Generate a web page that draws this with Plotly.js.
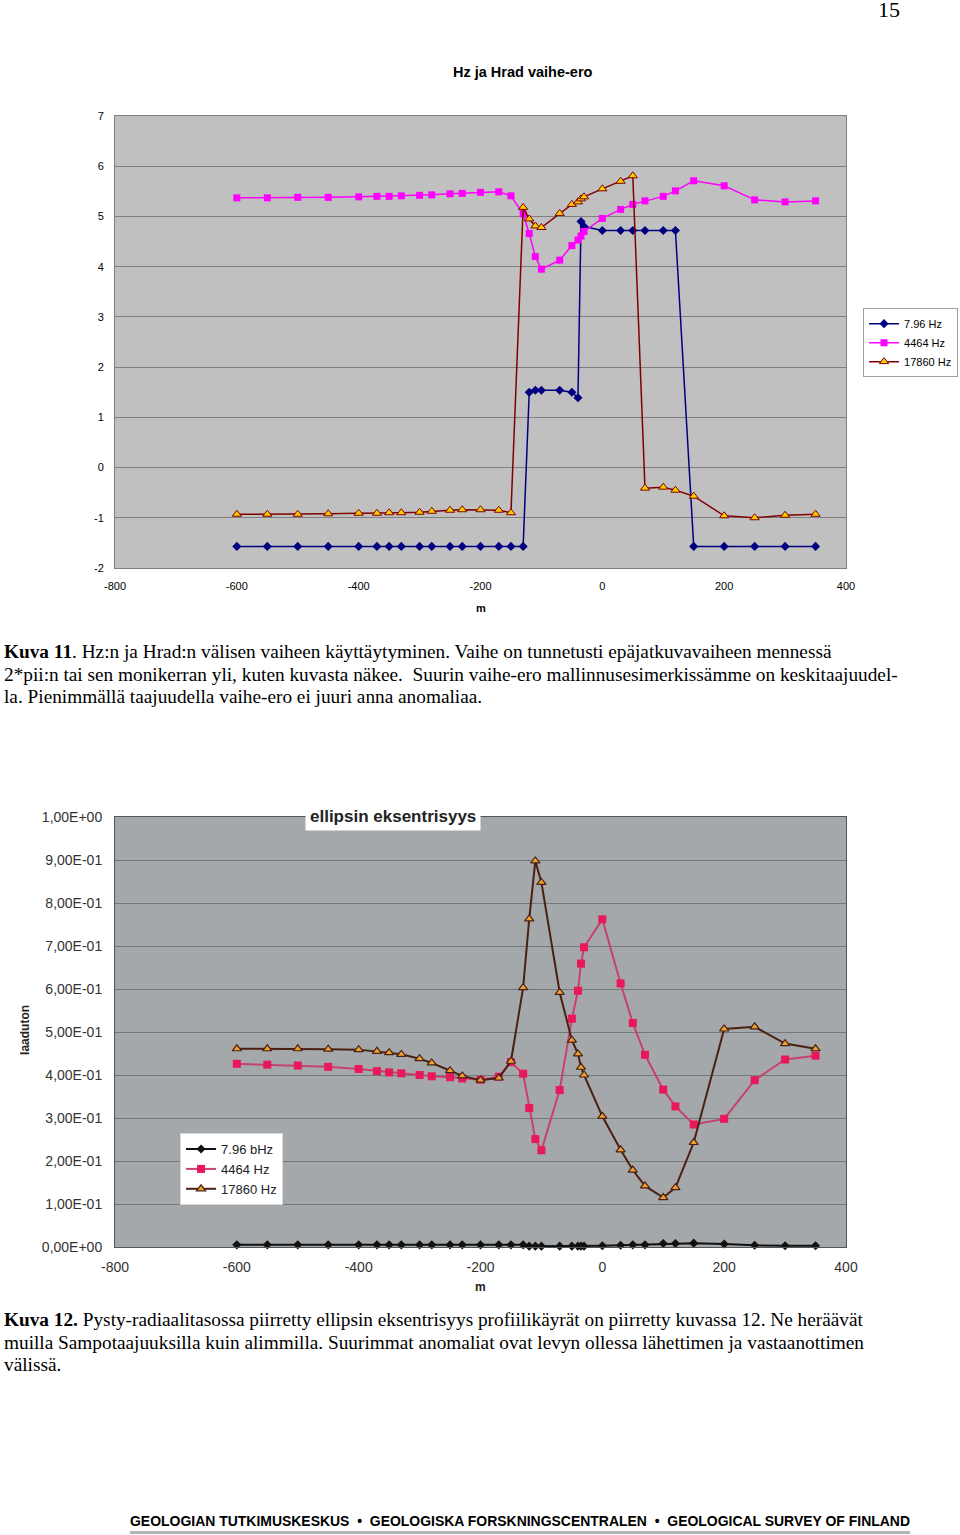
<!DOCTYPE html>
<html>
<head>
<meta charset="utf-8">
<script src="https://cdn.plot.ly/plotly-3.0.1.min.js"></script>
<style>
body { margin: 0; width: 960px; height: 1535px; background: #fff; position: relative; overflow: hidden; }
#phasePlot { position: absolute; left: 0; top: 0; width: 960px; height: 620px; }
#eccPlot { position: absolute; left: 0; top: 780px; width: 960px; height: 520px; }
.caption { position: absolute; left: 4px; font-family: "Liberation Serif", "Times New Roman", serif; font-size: 19.3px; line-height: 22.5px; color: #000; white-space: nowrap; }
.pageNo { position: absolute; left: 878px; top: -3px; font-family: "Liberation Serif", serif; font-size: 22px; }
.footer { position: absolute; left: 130px; top: 1513px; width: 780px; font-family: "Liberation Sans", Arial, sans-serif; font-weight: bold; font-size: 14px; white-space: nowrap; transform-origin: left top; }
.footerLine { position: absolute; left: 130px; top: 1531px; width: 780px; height: 3px; background: #b4b4b4; }
</style>
</head>
<body>
<div class="pageNo">15</div>
<div id="phasePlot"></div>
<div class="caption" style="top:641px;">
<b>Kuva 11</b>. Hz:n ja Hrad:n välisen vaiheen käyttäytyminen. Vaihe on tunnetusti epäjatkuvavaiheen mennessä<br>
2*pii:n tai sen monikerran yli, kuten kuvasta näkee.&nbsp; Suurin vaihe-ero mallinnusesimerkissämme on keskitaajuudel-<br>
la. Pienimmällä taajuudella vaihe-ero ei juuri anna anomaliaa.
</div>
<div id="eccPlot"></div>
<div class="caption" style="top:1309px;">
<b>Kuva 12.</b> Pysty-radiaalitasossa piirretty ellipsin eksentrisyys profiilikäyrät on piirretty kuvassa 12. Ne heräävät<br>
muilla Sampotaajuuksilla kuin alimmilla. Suurimmat anomaliat ovat levyn ollessa lähettimen ja vastaanottimen<br>
välissä.
</div>
<div class="footer" id="footer">GEOLOGIAN TUTKIMUSKESKUS &nbsp;•&nbsp; GEOLOGISKA FORSKNINGSCENTRALEN &nbsp;•&nbsp; GEOLOGICAL SURVEY OF FINLAND</div>
<div class="footerLine"></div>
<script>
// profile stations (m)
const stations = [-600, -550, -500, -450, -400, -370, -350, -330, -300, -280, -250, -230, -200, -170, -150,
    -130, -120, -110, -100, -70, -50, -40, -35, -30, 0, 30, 50, 70, 100, 120, 150, 200, 250, 300, 350];
const xTickVals = [-800, -600, -400, -200, 0, 200, 400];
const xTickText = ["-800", "-600", "-400", "-200", "0", "200", "400"];

// Hz / Hrad phase difference
const phaseLow = [-1.57, -1.57, -1.57, -1.57, -1.57, -1.57, -1.57, -1.57, -1.57, -1.57, -1.57, -1.57, -1.57, -1.57, -1.57,
    -1.57, 1.50, 1.54, 1.54, 1.54, 1.50, 1.39, 4.90, 4.80, 4.72, 4.72, 4.72, 4.72, 4.72, 4.72, -1.57, -1.57, -1.57, -1.57, -1.57];
const phaseMid = [5.37, 5.37, 5.38, 5.38, 5.39, 5.40, 5.40, 5.41, 5.42, 5.43, 5.45, 5.46, 5.48, 5.49, 5.41,
    5.05, 4.66, 4.20, 3.95, 4.13, 4.42, 4.53, 4.61, 4.70, 4.96, 5.14, 5.24, 5.31, 5.40, 5.51, 5.71, 5.61, 5.33, 5.29, 5.31];
const phaseHigh = [-0.93, -0.93, -0.93, -0.92, -0.91, -0.91, -0.90, -0.90, -0.89, -0.87, -0.85, -0.84, -0.84, -0.85, -0.90,
    5.18, 4.95, 4.81, 4.78, 5.06, 5.24, 5.29, 5.35, 5.39, 5.55, 5.70, 5.81, -0.41, -0.39, -0.45, -0.57, -0.96, -1.00, -0.95, -0.93];
const phaseNames = ["7.96 Hz", "4464 Hz", "17860 Hz"];
const phaseTickVals = [-2, -1, 0, 1, 2, 3, 4, 5, 6, 7];
const phaseTickText = ["-2", "-1", "0", "1", "2", "3", "4", "5", "6", "7"];

// ellipse eccentricity
const eccLow = [0.005, 0.005, 0.005, 0.005, 0.005, 0.005, 0.005, 0.005, 0.005, 0.005, 0.005, 0.005, 0.005, 0.005, 0.005,
    0.005, 0.002, 0.002, 0.002, 0.002, 0.002, 0.002, 0.002, 0.002, 0.003, 0.004, 0.005, 0.005, 0.008, 0.008, 0.009, 0.007, 0.004, 0.003, 0.003];
const eccMid = [0.426, 0.424, 0.422, 0.419, 0.414, 0.409, 0.406, 0.404, 0.400, 0.397, 0.395, 0.392, 0.389, 0.396, 0.430,
    0.403, 0.323, 0.251, 0.225, 0.365, 0.531, 0.596, 0.659, 0.697, 0.762, 0.613, 0.521, 0.447, 0.366, 0.327, 0.285, 0.298, 0.388, 0.436, 0.445];
const eccHigh = [0.461, 0.461, 0.461, 0.460, 0.459, 0.455, 0.452, 0.448, 0.438, 0.428, 0.410, 0.398, 0.388, 0.393, 0.432,
    0.603, 0.763, 0.898, 0.848, 0.592, 0.481, 0.449, 0.418, 0.400, 0.304, 0.226, 0.179, 0.142, 0.115, 0.138, 0.243, 0.507, 0.512, 0.473, 0.461];
const eccNames = ["7.96 bHz", "4464 Hz", "17860 Hz"];
const eccTickVals = [0, 0.1, 0.2, 0.3, 0.4, 0.5, 0.6, 0.7, 0.8, 0.9, 1.0];
const eccTickText = ["0,00E+00", "1,00E-01", "2,00E-01", "3,00E-01", "4,00E-01", "5,00E-01",
    "6,00E-01", "7,00E-01", "8,00E-01", "9,00E-01", "1,00E+00"];

const arial = "Liberation Sans, Arial, sans-serif";

const phaseTraces = [
    {
        x: stations, y: phaseLow, name: phaseNames[0], type: "scatter", mode: "lines+markers",
        line: { color: "#000080", width: 1.5 },
        marker: { symbol: "diamond", size: 7, color: "#000080" }
    },
    {
        x: stations, y: phaseMid, name: phaseNames[1], type: "scatter", mode: "lines+markers",
        line: { color: "#ff00ff", width: 1.5 },
        marker: { symbol: "square", size: 7, color: "#ff00ff" }
    },
    {
        x: stations, y: phaseHigh, name: phaseNames[2], type: "scatter", mode: "lines+markers",
        line: { color: "#800000", width: 1.5 },
        marker: { symbol: "triangle-up", size: 8, color: "#ffcc00", line: { color: "#800000", width: 1 } }
    }
];

const phaseLayout = {
    width: 960, height: 620,
    margin: { l: 115, r: 114, t: 116, b: 52 },
    paper_bgcolor: "rgba(0,0,0,0)",
    plot_bgcolor: "#c0c0c0",
    font: { family: arial, size: 11, color: "#000" },
    xaxis: {
        range: [-800, 400], tickvals: xTickVals, ticktext: xTickText,
        showgrid: false, zeroline: false, showline: true, linecolor: "#808080", mirror: true,
        ticks: "outside", ticklen: 8, tickcolor: "rgba(0,0,0,0)"
    },
    yaxis: {
        range: [-2, 7], tickvals: phaseTickVals, ticktext: phaseTickText,
        showgrid: true, gridcolor: "#808080", gridwidth: 1, zeroline: false,
        showline: true, linecolor: "#808080", mirror: true,
        ticks: "outside", ticklen: 8, tickcolor: "rgba(0,0,0,0)"
    },
    showlegend: true,
    legend: {
        xref: "container", yref: "container",
        x: 0.899, y: 0.503, xanchor: "left", yanchor: "top",
        bgcolor: "#fff", bordercolor: "#a0a0a0", borderwidth: 1,
        font: { family: arial, size: 11, color: "#000" },
        itemwidth: 30, tracegroupgap: 0
    },
    annotations: [
        { text: "<b>Hz ja Hrad vaihe-ero</b>", xref: "paper", yref: "paper", x: 0.558, y: 1.097,
          xanchor: "center", yanchor: "middle",
          showarrow: false, font: { family: arial, size: 14.5, color: "#000" } },
        { text: "<b>m</b>", xref: "paper", yref: "paper", x: 0.5, y: -0.0885,
          xanchor: "center", yanchor: "middle",
          showarrow: false, font: { family: arial, size: 11, color: "#000" } }
    ]
};

const eccTraces = [
    {
        x: stations, y: eccLow, name: eccNames[0], type: "scatter", mode: "lines+markers", cliponaxis: false,
        line: { color: "#111111", width: 2 },
        marker: { symbol: "diamond", size: 7, color: "#111111" }
    },
    {
        x: stations, y: eccMid, name: eccNames[1], type: "scatter", mode: "lines+markers",
        line: { color: "#c8406e", width: 2 },
        marker: { symbol: "square", size: 8, color: "#e8185a" }
    },
    {
        x: stations, y: eccHigh, name: eccNames[2], type: "scatter", mode: "lines+markers",
        line: { color: "#4a2012", width: 2 },
        marker: { symbol: "triangle-up", size: 8, color: "#f0a030", line: { color: "#4a2012", width: 1.2 } }
    }
];

const eccLayout = {
    width: 960, height: 520,
    margin: { l: 115, r: 114, t: 37, b: 53 },
    paper_bgcolor: "rgba(0,0,0,0)",
    plot_bgcolor: "#a4a8ab",
    font: { family: arial, size: 14, color: "#333" },
    xaxis: {
        range: [-800, 400], tickvals: xTickVals, ticktext: xTickText,
        showgrid: false, zeroline: false, showline: true, linecolor: "#555", mirror: true,
        ticks: "outside", ticklen: 7, tickcolor: "rgba(0,0,0,0)"
    },
    yaxis: {
        range: [0, 1], tickvals: eccTickVals, ticktext: eccTickText,
        showgrid: true, gridcolor: "#74787b", gridwidth: 1, zeroline: false,
        showline: true, linecolor: "#555", mirror: true,
        ticks: "outside", ticklen: 9, tickcolor: "rgba(0,0,0,0)"
    },
    showlegend: true,
    legend: {
        x: 0.089, y: 0.265, xanchor: "left", yanchor: "top",
        bgcolor: "#fff", bordercolor: "#d8d8d8", borderwidth: 1,
        font: { family: arial, size: 13, color: "#222" },
        itemwidth: 30, tracegroupgap: 0
    },
    annotations: [
        { text: "<b>ellipsin eksentrisyys</b>", xref: "paper", yref: "paper", x: 0.3803, y: 1.002,
          xanchor: "center", yanchor: "middle", showarrow: false, bgcolor: "#fff", borderpad: 4,
          font: { family: arial, size: 17, color: "#222" } },
        { text: "<b>laaduton</b>", xref: "paper", yref: "paper", x: -0.123, y: 0.505, textangle: -90,
          xanchor: "center", yanchor: "middle",
          showarrow: false, font: { family: arial, size: 12, color: "#222" } },
        { text: "<b>m</b>", xref: "paper", yref: "paper", x: 0.5, y: -0.093,
          xanchor: "center", yanchor: "middle",
          showarrow: false, font: { family: arial, size: 12, color: "#222" } }
    ]
};

const config = { displayModeBar: false, staticPlot: true };
Plotly.newPlot("phasePlot", phaseTraces, phaseLayout, config);
Plotly.newPlot("eccPlot", eccTraces, eccLayout, config);

// stretch the footer text to the rule width
const footer = document.getElementById("footer");
const span = document.createElement("span");
span.innerHTML = footer.innerHTML;
footer.innerHTML = "";
footer.appendChild(span);
const w = span.getBoundingClientRect().width;
if (w > 0) footer.style.transform = "scaleX(" + (780 / w) + ")";
footer.style.width = w + "px";
</script>
</body>
</html>
